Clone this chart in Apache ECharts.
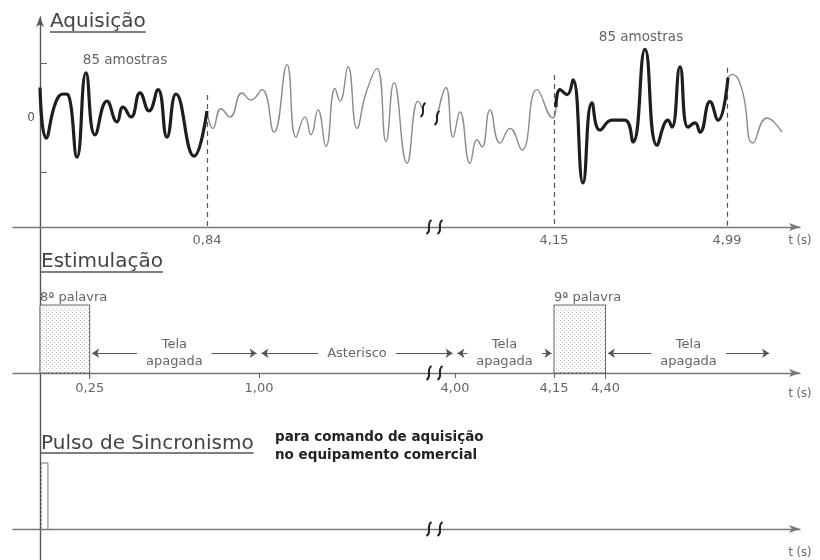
<!DOCTYPE html>
<html><head><meta charset="utf-8">
<script src="https://cdn.jsdelivr.net/npm/echarts@6/dist/echarts.min.js"></script>
<style>html,body{margin:0;padding:0;background:#fff}#c{width:820px;height:560px}</style>
</head><body><div id="c"></div>
<script>
// ================= DATA =================
// Time-axis labels (s) of each panel
const acqTicks  = [0.84, 4.15, 4.99];
const stimTicks = [0.25, 1.00, 4.00, 4.15, 4.40];
// Dashed markers of the acquisition windows: time (s) and top amplitude
const acqMarkTimes = [0.84, 4.15, 4.99];
const acqMarkTops  = [0.42, 0.79, 0.92];
// 85-sample analysis windows (sample index)
const windowStart = [0, 258];
const windowLen = 85;
// EEG trace: [sample index, amplitude]
const waveDark1 = [[0,0.56],[3,-0.37],[8,0.3],[12,0.44],[14,0.43],[18.5,-0.72],[23,0.83],[27.5,-0.31],[33.5,0.31],[38.5,-0.07],[41.5,0.2],[45.5,0.02],[50,0.46],[54.5,0.13],[59,0.52],[63.5,-0.35],[68,0.44],[77,-0.7],[83.5,0.13]];
const waveLight1 = [[83.5,0.13],[86.5,-0.19],[90.5,0.17],[95,0.02],[101,0.46],[105.5,0.33],[111,0.52],[117,-0.26],[123.5,0.98],[128,-0.35],[132.5,0.02],[135.5,-0.31],[139,0.15],[143,-0.52],[147.5,0.54],[150,0.31],[154,0.94],[158.5,-0.19],[163,0.46],[168.5,0.91],[173,-0.43],[177,0.65],[183.5,-0.83],[189,0.31],[191.5,0.15]];
const waveLight2 = [[198.5,0],[203,0.56],[206.5,-0.35],[210,0.11],[215,-0.83],[218.5,-0.4],[221,-0.53],[225,0.15],[230,-0.46],[235,-0.19],[241,-0.59],[248.5,0.52],[256.5,0],[258,0.2]];
const waveDark2 = [[258,0.2],[260,0.52],[263.5,0.43],[266.5,0.7],[271.5,-1.19],[276,0.28],[280,-0.22],[286,-0.04],[292.5,-0.04],[296.5,-0.44],[302.5,1.26],[308.5,-0.5],[314,-0.04],[316,-0.17],[320,0.94],[324,-0.17],[327.5,-0.09],[330,-0.26],[335,0.3],[339,-0.04],[344,0.74]];
const waveLight3 = [[344,0.74],[346,0.8],[351,0.52],[356.5,-0.46],[363.5,0],[371,-0.26]];
// Stimulation: words
const wordStart = [0, 4.15];
const wordEnd   = [0.25, 4.40];
const wordText  = ['8ª palavra', '9ª palavra'];
// Stimulation: intervals between words
const spanStart = [0.25, 1.00, 4.00, 4.40];
const spanEnd   = [1.00, 4.00, 4.15, 5.21];
const spanText  = ['Tela\napagada', 'Asterisco', 'Tela\napagada', 'Tela\napagada'];
// Sync pulse (s)
const pulseStart = 0, pulseEnd = 0.04;
// Axis break (s)
const breakTimes = [1.835, 3.985];
// The drawing is not to scale: knots of its time scale (real s -> drawn s)
const scaleTime = [0, 0.84, 1.00, 1.835, 3.985, 4.00, 4.15, 4.99, 5.40];
const scaleDraw = [0, 0.835, 1.095, 1.945, 2.0, 2.075, 2.57, 3.435, 3.85];

// ================= HELPERS =================
function drawPos(t){
  for (let i = 1; i < scaleTime.length; i++){
    if (t <= scaleTime[i] || i === scaleTime.length - 1){
      const f = (t - scaleTime[i-1]) / (scaleTime[i] - scaleTime[i-1]);
      return scaleDraw[i-1] + f * (scaleDraw[i] - scaleDraw[i-1]);
    }
  }
}
const FONT = 'DejaVu Sans';
const mctx = document.createElement('canvas').getContext('2d');
function textW(txt, size, weight){ mctx.font = (weight||'normal') + ' ' + size + 'px "' + FONT + '"'; return Math.max(...txt.split('\n').map(s => mctx.measureText(s).width)); }
const fmt = t => t.toFixed(2).replace('.', ',');

const X_MIN = -0.135, X_MAX = 3.8;      // drawn seconds
const S_MIN = -13.5, S_MAX = 380;       // sample index
const ARROW_Y = 0.29;                   // level of the interval arrows

function timeAxis(gridIndex, ticks, o){
  const vals = ticks.map(drawPos);
  const lab = {};
  ticks.forEach((t, i) => lab[vals[i].toFixed(5)] = fmt(t));
  return {
    type: 'value', gridIndex, min: X_MIN, max: X_MAX,
    axisLine: {onZero: false, symbol: ['none', 'arrow'], symbolSize: [6, 11], lineStyle: {color: '#777', width: 1.4}},
    axisTick: {show: o.ticks, customValues: vals, length: 5, lineStyle: {color: '#666', width: 1}},
    axisLabel: {show: vals.length > 0, customValues: vals, formatter: v => lab[(+v).toFixed(5)] || '', color: '#666', fontSize: 13, fontFamily: FONT, margin: o.margin},
    splitLine: {show: false},
    name: 't (s)', nameLocation: 'end', nameGap: 0,
    nameTextStyle: {fontFamily: FONT, fontSize: 11.5, color: '#666', align: 'center', verticalAlign: 'top', padding: [o.namePad, 0, 0, 0]}
  };
}

// dotted fill
const pc = document.createElement('canvas'); pc.width = 4; pc.height = 4;
const pg = pc.getContext('2d'); pg.fillStyle = '#fff'; pg.fillRect(0,0,4,4);
pg.fillStyle = '#bdbdbd'; pg.fillRect(0,0,1,1); pg.fillRect(2,2,1,1);
const dotFill = {image: pc, repeat: 'repeat'};

function breakMark(x, y){
  return {type: 'path', shape: {pathData: `M${x+2.5},${y-7} C${x-3.5},${y-3} ${x+3.5},${y+3} ${x-2.5},${y+7}`},
          style: {fill: 'none', stroke: '#222', lineWidth: 2}};
}
function breakSeries(xi, yi, yBase){
  return {type: 'custom', xAxisIndex: xi, yAxisIndex: yi, z: 5,
    data: breakTimes.map(t => [drawPos(t), yBase]),
    renderItem: (p, api) => { const c = api.coord([api.value(0), api.value(1)]); return breakMark(c[0], c[1]); }};
}

// interval arrows
const arrowData = [];
spanStart.forEach((s, i) => {
  const a = drawPos(s), b = drawPos(spanEnd[i]), m = (a + b) / 2;
  const half = (textW(spanText[i], 13) / 2 + 9) / 200;
  arrowData.push({coords: [[m - half, ARROW_Y], [a + 0.012, ARROW_Y]]});
  arrowData.push({coords: [[m + half, ARROW_Y], [b - 0.012, ARROW_Y]]});
});

const darkWaves = [waveDark1, waveDark2];
const waveLine = (data, dark) => ({
  type: 'line', xAxisIndex: 1, yAxisIndex: 0, data, showSymbol: false, symbol: 'none',
  smooth: 0.5, z: dark ? 4 : 3,
  lineStyle: dark ? {color: '#1e1e1e', width: 3.2} : {color: '#8a8a8a', width: 1.4}
});

const option = {
  animation: false,
  backgroundColor: '#fff',
  textStyle: {fontFamily: FONT},
  title: [
    {text: 'Aquisição', left: 50, top: 12, padding: 0, textStyle: {fontFamily: FONT, fontSize: 20, fontWeight: 'normal', color: '#444'}},
    {text: 'Estimulação', left: 41, top: 252, padding: 0, textStyle: {fontFamily: FONT, fontSize: 20, fontWeight: 'normal', color: '#444'}},
    {text: 'Pulso de Sincronismo', left: 41, top: 434, padding: 0, textStyle: {fontFamily: FONT, fontSize: 20, fontWeight: 'normal', color: '#444'}},
    {text: 'para comando de aquisição\nno equipamento comercial', left: 275, top: 428, padding: 0, textStyle: {fontFamily: FONT, fontSize: 13.5, fontWeight: 'bold', color: '#222', lineHeight: 18}}
  ],
  graphic: [
    {type: 'line', shape: {x1: 50, y1: 32, x2: 50 + textW('Aquisição', 20), y2: 32}, style: {stroke: '#555', lineWidth: 1.5}},
    {type: 'line', shape: {x1: 41, y1: 272, x2: 41 + textW('Estimulação', 20), y2: 272}, style: {stroke: '#555', lineWidth: 1.5}},
    {type: 'line', shape: {x1: 41, y1: 453, x2: 41 + textW('Pulso de Sincronismo', 20), y2: 453}, style: {stroke: '#555', lineWidth: 1.5}}
  ],
  grid: [
    {left: 13, right: 20, top: 9, bottom: 333, outerBoundsMode: 'none'},
    {left: 13, right: 20, top: 291.4, bottom: 187, outerBoundsMode: 'none'},
    {left: 13, right: 20, top: 449.8, bottom: 31, outerBoundsMode: 'none'},
    {left: 40, right: 20, top: 17, bottom: 0, outerBoundsMode: 'none'}
  ],
  xAxis: [
    timeAxis(0, acqTicks, {ticks: false, margin: 7, namePad: 8}),
    {type: 'value', gridIndex: 0, min: S_MIN, max: S_MAX, show: false},
    timeAxis(1, stimTicks, {ticks: true, margin: 9, namePad: 15}),
    timeAxis(2, [], {ticks: false, margin: 8, namePad: 18}),
    {type: 'value', gridIndex: 3, min: 0, max: 1, show: false}
  ],
  yAxis: [
    {type: 'value', gridIndex: 0, min: -2, max: 2, offset: -27,
     axisLine: {show: false, onZero: false},
     axisTick: {show: true, inside: true, customValues: [-1, 1], length: 7, lineStyle: {color: '#666'}},
     axisLabel: {customValues: [0], color: '#555', fontSize: 12, fontFamily: FONT, margin: 5},
     splitLine: {show: false}},
    {type: 'value', gridIndex: 1, min: 0, max: 1.2, show: false},
    {type: 'value', gridIndex: 2, min: 0, max: 1.2, show: false},
    {type: 'value', gridIndex: 3, min: 0, max: 1,
     axisLine: {show: true, onZero: false, symbol: ['none', 'arrow'], symbolSize: [6, 10], lineStyle: {color: '#555', width: 1.4}},
     axisTick: {show: false}, axisLabel: {show: false}, splitLine: {show: false}}
  ],
  series: [
    waveLine(waveLight1, false),
    waveLine(waveLight2, false),
    waveLine(waveLight3, false),
    waveLine(waveDark1, true),
    waveLine(waveDark2, true),
    // wave break marks
    {type: 'custom', xAxisIndex: 1, yAxisIndex: 0, z: 6,
     data: [waveLight1[waveLight1.length - 1], waveLight2[0]],
     renderItem: (p, api) => { const c = api.coord([api.value(0), api.value(1)]); return breakMark(c[0], c[1]); }},
    // "85 amostras" labels
    {type: 'custom', xAxisIndex: 1, yAxisIndex: 0, z: 6,
     data: windowStart.map((s, i) => [s + windowLen / 2, Math.max(...darkWaves[i].map(d => d[1]))]),
     renderItem: (p, api) => { const c = api.coord([api.value(0), api.value(1)]);
       return {type: 'text', x: c[0], y: c[1] - 12, style: {text: windowLen + ' amostras', align: 'center', verticalAlign: 'middle', font: '13.5px "' + FONT + '"', fill: '#666'}}; }},
    // dashed window markers
    {type: 'lines', coordinateSystem: 'cartesian2d', xAxisIndex: 0, yAxisIndex: 0, z: 2,
     data: acqMarkTimes.map((t, i) => ({coords: [[drawPos(t), acqMarkTops[i]], [drawPos(t), -2]]})),
     lineStyle: {color: '#555', width: 1.2, type: [5, 4], opacity: 1, curveness: 0}},
    breakSeries(0, 0, -2),
    // word boxes
    {type: 'custom', xAxisIndex: 2, yAxisIndex: 1, z: 3,
     data: wordStart.map((s, i) => [drawPos(s), drawPos(wordEnd[i]), i]),
     renderItem: (p, api) => {
       const a = api.coord([api.value(0), 1]), b = api.coord([api.value(1), 0]);
       return {type: 'group', children: [
         {type: 'rect', shape: {x: a[0], y: a[1], width: b[0] - a[0], height: b[1] - a[1]}, style: {fill: dotFill, stroke: '#666', lineWidth: 1}},
         {type: 'line', shape: {x1: b[0], y1: b[1], x2: b[0], y2: b[1] + 6}, style: {stroke: '#666', lineWidth: 1}},
         {type: 'text', x: a[0], y: a[1] - 1, style: {text: wordText[api.value(2)], align: 'left', verticalAlign: 'bottom', font: '13px "' + FONT + '"', fill: '#666'}}
       ]};
     }},
    // interval arrows
    {type: 'lines', coordinateSystem: 'cartesian2d', xAxisIndex: 2, yAxisIndex: 1, z: 3,
     data: arrowData, symbol: ['none', 'arrow'], symbolSize: 7,
     lineStyle: {color: '#555', width: 1, opacity: 1, curveness: 0}},
    // interval labels
    {type: 'custom', xAxisIndex: 2, yAxisIndex: 1, z: 3,
     data: spanStart.map((s, i) => [(drawPos(s) + drawPos(spanEnd[i])) / 2, ARROW_Y, i]),
     renderItem: (p, api) => { const c = api.coord([api.value(0), api.value(1)]);
       return {type: 'text', x: c[0], y: c[1], style: {text: spanText[api.value(2)], align: 'center', verticalAlign: 'middle', lineHeight: 17, font: '13px "' + FONT + '"', fill: '#666'}}; }},
    breakSeries(2, 1, 0),
    // sync pulse
    {type: 'custom', xAxisIndex: 3, yAxisIndex: 2, z: 3,
     data: [[drawPos(pulseStart), drawPos(pulseEnd)]],
     renderItem: (p, api) => {
       const a = api.coord([api.value(0), 1]), b = api.coord([api.value(1), 0]);
       return {type: 'group', children: [
         {type: 'polyline', shape: {points: [[a[0] + 1.5, a[1]], [b[0], a[1]], [b[0], b[1]]]}, style: {fill: 'none', stroke: '#777', lineWidth: 1}},
         {type: 'line', shape: {x1: a[0] + 1.5, y1: a[1], x2: a[0] + 1.5, y2: b[1]}, style: {stroke: '#999', lineWidth: 1, lineDash: [2, 2]}}
       ]};
     }},
    breakSeries(3, 2, 0)
  ]
};
echarts.init(document.getElementById('c')).setOption(option);
</script></body></html>
